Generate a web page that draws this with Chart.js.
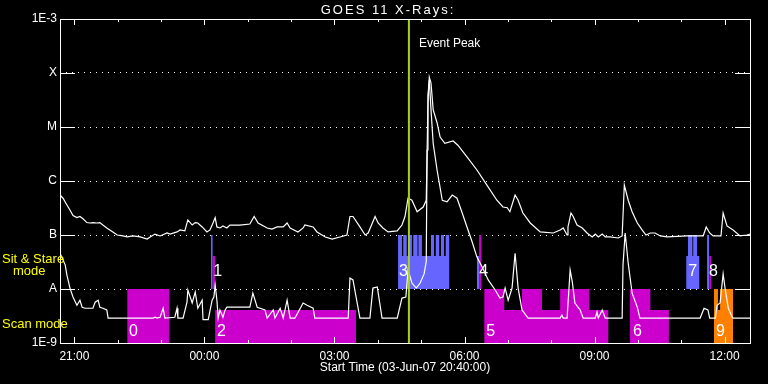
<!DOCTYPE html>
<html>
<head>
<meta charset="utf-8">
<script src="https://cdn.jsdelivr.net/npm/chart.js@4/dist/chart.umd.min.js"></script>
<style>
  html, body { margin: 0; padding: 0; background: #000; }
  canvas { display: block; }
</style>
</head>
<body>
<canvas id="goes" width="768" height="384"></canvas>
<script>
// axis labelling
const chartTitle = 'GOES 11 X-Rays:';
const startLabel = 'Start Time (03-Jun-07 20:40:00)';
const hourTicks = [0.333, 3.333, 6.333, 9.333, 12.333, 15.333]; // hours after 20:40
const hourLabels = ['21:00', '00:00', '03:00', '06:00', '09:00', '12:00'];
const levelValues = [1e-9, 1e-8, 1e-7, 1e-6, 1e-5, 1e-4, 1e-3];
const levelLabels = ['1E-9', 'A', 'B', 'C', 'M', 'X', '1E-3'];
const eventPeak = 8.05;

// 1-8 A channel (W/m2), times in hours after start
const longT = [0.00, 0.07, 0.16, 0.23, 0.30, 0.39, 0.46, 0.53, 0.62, 0.69, 0.76, 0.85, 0.92, 0.99, 1.08,
  1.22, 1.32, 1.45, 1.55, 1.68, 1.85, 2.01, 2.08, 2.19, 2.31, 2.47, 2.54, 2.70, 2.77, 2.88, 2.95, 3.05,
  3.12, 3.18, 3.28, 3.39, 3.46, 3.53, 3.58, 3.62, 3.69, 3.76, 3.85, 3.92, 4.15, 4.38, 4.48, 4.57, 4.78,
  4.89, 5.01, 5.15, 5.24, 5.31, 5.49, 5.61, 5.65, 5.84, 5.93, 6.12, 6.28, 6.46, 6.62, 6.69, 6.76, 6.92,
  7.04, 7.11, 7.27, 7.34, 7.45, 7.57, 7.78, 7.89, 7.96, 8.03, 8.12, 8.24, 8.38, 8.45, 8.49, 8.52, 8.56,
  8.61, 8.70, 8.77, 8.88, 9.07, 9.18, 9.39, 9.62, 9.85, 10.08, 10.22, 10.32, 10.38, 10.50, 10.57, 10.68,
  10.85, 11.08, 11.38, 11.54, 11.61, 11.70, 11.72, 11.79, 11.84, 11.93, 12.05, 12.16, 12.28, 12.35, 12.42,
  12.51, 12.58, 12.69, 12.88, 12.97, 13.02, 13.11, 13.20, 13.32, 13.43, 13.52, 13.62, 13.73, 13.85, 14.01,
  14.47, 14.84, 14.91, 14.99, 15.07, 15.25, 15.30, 15.39, 15.53, 15.69, 15.85, 15.92];
const longFlux = [5.5e-7, 4.8e-7, 3.6e-7, 2.9e-7, 2.3e-7, 2.1e-7, 2.2e-7, 2.0e-7, 1.7e-7, 1.67e-7, 1.7e-7, 1.67e-7, 1.7e-7, 1.53e-7, 1.35e-7,
  1.14e-7, 1.0e-7, 9.6e-8, 9.2e-8, 9.6e-8, 9.2e-8, 8.4e-8, 9.2e-8, 1.04e-7, 9.6e-8, 1.09e-7, 1.04e-7, 1.14e-7, 1.24e-7, 1.19e-7, 1.9e-7, 1.53e-7,
  1.7e-7, 1.67e-7, 1.41e-7, 1.14e-7, 1.24e-7, 1.67e-7, 2.1e-7, 1.41e-7, 1.35e-7, 1.47e-7, 1.35e-7, 1.53e-7, 1.53e-7, 1.6e-7, 2.2e-7, 1.67e-7, 1.35e-7,
  1.29e-7, 1.41e-7, 1.41e-7, 1.67e-7, 1.35e-7, 1.14e-7, 1.35e-7, 1.53e-7, 1.41e-7, 1.14e-7, 9.2e-8, 8.4e-8, 9.2e-8, 1.0e-7, 2.2e-7, 2.2e-7, 1.41e-7,
  1.0e-7, 1.09e-7, 2.2e-7, 1.67e-7, 1.35e-7, 1.14e-7, 1.19e-7, 1.53e-7, 2.2e-7, 4.8e-7, 4.4e-7, 2.7e-7, 3.3e-7, 4.4e-7, 2.8e-5, 8.4e-5, 6.5e-5,
  2.1e-5, 1.2e-5, 6.5e-6, 5.0e-6, 5.5e-6, 4.6e-6, 2.8e-6, 1.6e-6, 8.4e-7, 4.4e-7, 3.3e-7, 3.2e-7, 2.7e-7, 5.5e-7, 4.4e-7, 2.55e-7,
  1.67e-7, 1.14e-7, 1.09e-7, 1.24e-7, 1.35e-7, 1.0e-7, 1.41e-7, 2.55e-7, 2.2e-7, 1.53e-7, 1.35e-7, 1.09e-7, 9.2e-8, 1.04e-7, 9.2e-8,
  1.04e-7, 9.2e-8, 9.2e-8, 8.8e-8, 9.6e-8, 8.4e-7, 4.4e-7, 2.7e-7, 1.67e-7, 1.24e-7, 1.0e-7, 1.09e-7, 1.09e-7, 9.6e-8, 9.2e-8,
  9.6e-8, 9.6e-8, 1.41e-7, 1.09e-7, 9.6e-8, 9.6e-8, 2.55e-7, 1.47e-7, 1.24e-7, 9.6e-8, 1.0e-7, 1.04e-7];

// 0.5-4 A channel
const shortT = [0.00, 0.12, 0.16, 0.23, 0.30, 0.39, 0.46, 0.51, 0.58, 0.76, 0.81, 0.88, 0.92, 0.99, 1.08, 1.11,
  2.15, 2.19, 2.24, 2.31, 2.38, 2.42, 2.65, 2.70, 2.72, 2.84, 2.93, 2.95, 3.05, 3.12, 3.18, 3.28, 3.30, 3.42,
  3.51, 3.55, 3.58, 3.62, 3.65, 3.69, 3.76, 3.81, 3.85, 4.38, 4.45, 4.55, 4.73, 4.78, 4.92, 4.96, 5.08, 5.15,
  5.24, 5.31, 5.42, 5.61, 5.70, 5.84, 5.88, 6.65, 6.69, 6.76, 6.92, 7.15, 7.22, 7.32, 7.43, 7.78, 7.89, 7.98,
  8.03, 8.12, 8.22, 8.31, 8.40, 8.45, 8.47, 8.49, 8.52, 8.56, 8.61, 8.70, 8.82, 8.93, 9.05, 9.16, 9.28, 9.39,
  9.51, 9.62, 9.74, 9.88, 10.04, 10.15, 10.22, 10.27, 10.34, 10.43, 10.50, 10.57, 10.66, 10.80, 11.54, 11.58,
  11.61, 11.70, 11.77, 11.82, 11.88, 12.00, 12.07, 12.35, 12.39, 12.42, 12.51, 12.58, 12.97, 12.99, 13.04,
  13.11, 13.20, 13.32, 13.38, 14.77, 14.86, 14.95, 14.99, 15.12, 15.16, 15.23, 15.30, 15.35, 15.42, 15.51,
  15.53, 15.92];
const shortFlux = [4.6e-8, 2.8e-8, 1.8e-8, 1.04e-8, 7.1e-9, 5.0e-9, 6.2e-9, 4.6e-9, 4.4e-9, 4.4e-9, 5.7e-9, 6.2e-9, 4.6e-9, 4.4e-9, 4.1e-9, 2.9e-9,
  2.9e-9, 3.0e-9, 2.9e-9, 3.0e-9, 4.4e-9, 2.9e-9, 3.0e-9, 4.4e-9, 2.9e-9, 2.9e-9, 5.7e-9, 9.6e-9, 5.5e-9, 8.8e-9, 4.4e-9, 6.2e-9, 2.7e-9, 2.7e-9,
  6.2e-9, 7.1e-9, 1.19e-8, 6.2e-9, 2.9e-9, 4.1e-9, 3.0e-9, 4.1e-9, 4.6e-9, 4.6e-9, 8.4e-9, 4.6e-9, 4.1e-9, 2.9e-9, 4.1e-9, 2.9e-9, 4.4e-9, 2.9e-9,
  6.2e-9, 2.9e-9, 2.9e-9, 5.5e-9, 5.0e-9, 4.4e-9, 2.9e-9, 2.9e-9, 1.6e-8, 1.47e-8, 2.9e-9, 2.9e-9, 1.04e-8, 1.09e-8, 2.9e-9, 2.9e-9, 6.8e-9, 7.1e-9,
  2.25e-8, 1.29e-8, 1.04e-8, 1.29e-8, 1.9e-8, 3.2e-8, 3.75e-6, 3.9e-5, 7.4e-5, 2.1e-5, 5.0e-6, 1.6e-6, 4.4e-7, 4.1e-7, 5.5e-7, 4.8e-7, 2.55e-7, 1.41e-7,
  7.4e-8, 3.9e-8, 2.55e-8, 1.47e-8, 9.6e-9, 6.8e-9, 7.1e-9, 1.04e-8, 6.2e-9, 1.04e-8, 4.6e-8, 1.04e-8, 4.1e-9, 2.9e-9, 2.9e-9, 3.3e-9,
  2.9e-9, 2.9e-9, 2.25e-8, 1.35e-8, 5.5e-9, 4.1e-9, 2.9e-9, 2.9e-9, 3.75e-9, 2.9e-9, 4.1e-9, 2.9e-9, 2.9e-9, 2.8e-8, 1.09e-7,
  3.0e-8, 8.4e-9, 4.6e-9, 2.9e-9, 2.9e-9, 4.4e-9, 4.1e-9, 2.9e-9, 2.9e-9, 5.0e-9, 5.5e-9, 1.9e-8, 9.6e-9, 4.4e-9, 3.0e-9,
  2.9e-9, 2.9e-9];

// observing modes: change times and state (2 = full, 1 = partial, 0 = off)
const scanMagT = [1.55, 2.52, 3.58, 6.83, 9.79, 10.25, 10.66, 11.12, 11.54, 12.21, 12.65, 13.15, 13.62, 14.05];
const scanMagS = [2, 0, 1, 0, 2, 1, 2, 1, 2, 1, 0, 2, 1, 0];
const scanOrgT = [15.09, 15.18, 15.23, 15.53];
const scanOrgS = [2, 1, 2, 0];
const stareBlueT = [3.48, 3.52, 7.80, 7.89, 7.92, 8.00, 8.03, 8.12, 8.15, 8.25, 8.27, 8.35, 8.56, 8.63, 8.67,
  8.75, 8.79, 8.86, 8.90, 8.98, 9.62, 9.67, 14.45, 14.49, 14.59, 14.61, 14.70, 14.75, 14.93, 14.98];
const stareBlueS = [2, 0, 2, 1, 2, 1, 2, 1, 2, 1, 2, 1, 2, 1, 2, 1, 2, 1, 2, 0, 1, 0, 1, 2, 1, 2, 1, 0, 2, 0];
const stareMagT = [3.52, 3.58, 9.67, 9.72, 14.98, 15.02];
const stareMagS = [1, 0, 2, 0, 1, 0];

// numbered observation segments
const segNames = ['0', '1', '2', '3', '4', '5', '6', '7', '8', '9'];
const segT = [1.57, 3.51, 3.60, 7.80, 9.65, 9.81, 13.20, 14.47, 14.95, 15.11];
const segBand = ['scan', 'stare', 'scan', 'stare', 'stare', 'scan', 'scan', 'stare', 'stare', 'scan'];

const MAGENTA = '#cc00cc';
const BLUE = '#6666ff';
const ORANGE = '#ff8000';
const FONT = '"Liberation Sans", Arial, sans-serif';

// band heights in flux units: [off, partial, full]
const scanBand = [1e-9, 4.1e-9, 1e-8];
const stareBand = [1e-8, 4.1e-8, 1e-7];

const toPts = (t, v) => t.map((x, i) => ({ x, y: v[i] }));
const modeSet = (t, s, band, color) => ({
  data: t.map((x, i) => ({ x, y: band[s[i]] })),
  stepped: true,
  borderWidth: 0,
  pointRadius: 0,
  backgroundColor: color,
  fill: band === scanBand ? 'start' : { value: band[0] },
});

const frame = {
  id: 'frame',
  afterDraw(chart) {
    const { ctx, chartArea: a, scales: { x, y } } = chart;
    ctx.save();
    ctx.strokeStyle = '#fff';
    ctx.lineWidth = 1;
    ctx.strokeRect(a.left + 0.5, a.top + 0.5, a.right - a.left, a.bottom - a.top);
    ctx.beginPath();
    levelValues.forEach(v => {
      const py = Math.round(y.getPixelForValue(v)) + 0.5;
      ctx.moveTo(a.left, py); ctx.lineTo(a.left + 15, py);
      ctx.moveTo(a.right - 15, py); ctx.lineTo(a.right, py);
    });
    for (let k = 0; 1 / 3 + k < x.max; k++) {
      const px = Math.round(x.getPixelForValue(1 / 3 + k)) + 0.5;
      const len = k % 3 === 0 ? 6 : 3;
      ctx.moveTo(px, a.bottom); ctx.lineTo(px, a.bottom - len);
      ctx.moveTo(px, a.top); ctx.lineTo(px, a.top + len);
    }
    ctx.stroke();

    ctx.fillStyle = '#fff';
    ctx.textBaseline = 'middle';
    ctx.textAlign = 'center';
    ctx.font = '13px ' + FONT;
    ctx.letterSpacing = '2px';
    ctx.fillText(chartTitle, 388, 10);
    ctx.letterSpacing = '0px';

    ctx.textAlign = 'left';
    ctx.font = '12px ' + FONT;
    ctx.fillText('Event Peak', x.getPixelForValue(eventPeak) + 10, 44);

    ctx.font = '16px ' + FONT;
    segNames.forEach((n, i) => {
      const py = y.getPixelForValue(segBand[i] === 'scan' ? 1.6e-9 : 2.1e-8);
      ctx.fillText(n, x.getPixelForValue(segT[i]) + 1, py);
    });

    ctx.fillStyle = '#ffff00';
    ctx.font = '13px ' + FONT;
    ctx.fillText('Sit & Stare', 2, 259);
    ctx.fillText('mode', 13, 271);
    ctx.fillText('Scan mode', 2, 324);
    ctx.restore();
  }
};

Chart.defaults.font.family = FONT;
Chart.defaults.font.size = 12;
Chart.defaults.color = '#fff';

new Chart(document.getElementById('goes'), {
  type: 'line',
  data: {
    datasets: [
      {
        data: [{ x: eventPeak, y: 1e-9 }, { x: eventPeak, y: 1e-3 }],
        borderColor: '#a6d21e', borderWidth: 2, pointRadius: 0,
      },
      { data: toPts(longT, longFlux), borderColor: '#fff', borderWidth: 1.2, pointRadius: 0 },
      { data: toPts(shortT, shortFlux), borderColor: '#fff', borderWidth: 1.2, pointRadius: 0 },
      modeSet(stareMagT, stareMagS, stareBand, MAGENTA),
      modeSet(stareBlueT, stareBlueS, stareBand, BLUE),
      modeSet(scanOrgT, scanOrgS, scanBand, ORANGE),
      modeSet(scanMagT, scanMagS, scanBand, MAGENTA),
    ]
  },
  options: {
    responsive: false,
    devicePixelRatio: 1,
    animation: false,
    layout: { padding: { top: 19, right: 18, left: 0, bottom: 0 } },
    plugins: { legend: { display: false }, tooltip: { enabled: false } },
    scales: {
      x: {
        type: 'linear', min: 0, max: 15.92,
        grid: { display: false, drawTicks: false },
        border: { display: false },
        afterBuildTicks: s => { s.ticks = hourTicks.map(v => ({ value: v })); },
        afterFit: s => { s.height = 41; },
        ticks: { color: '#fff', padding: 6, maxRotation: 0, autoSkip: false, callback: (v, i) => hourLabels[i] },
        title: { display: true, text: startLabel, color: '#fff', padding: { top: 0, bottom: 9 } }
      },
      y: {
        type: 'logarithmic', min: 1e-9, max: 1e-3,
        grid: { color: '#fff', lineWidth: 1, drawTicks: false },
        border: { display: false, dash: [1, 5] },
        afterBuildTicks: s => { s.ticks = levelValues.map(v => ({ value: v })); },
        afterFit: s => { s.width = 60; },
        ticks: { color: '#fff', padding: 3, autoSkip: false, callback: (v, i) => levelLabels[i] }
      }
    }
  },
  plugins: [frame]
});
</script>
</body>
</html>
